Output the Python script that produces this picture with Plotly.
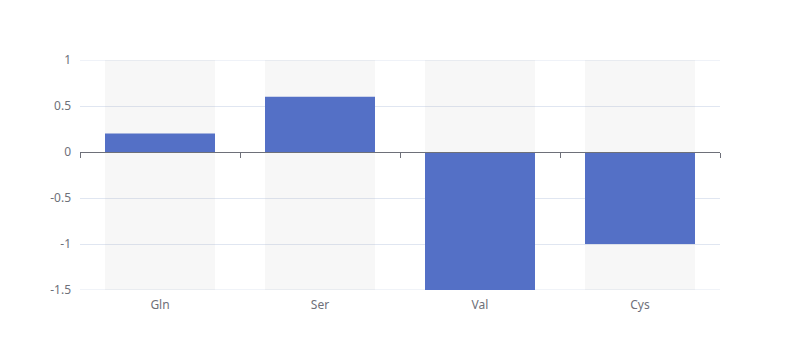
import plotly.graph_objects as go

categories = ["Gln", "Ser", "Val", "Cys"]
values = [0.2, 0.6, -1.5, -1.0]
y_min, y_max = -1.5, 1.0
y_ticks = [-1.5, -1, -0.5, 0, 0.5, 1]
y_tick_text = ["-1.5", "-1", "-0.5", "0", "0.5", "1"]

fig = go.Figure()
fig.add_trace(go.Bar(
    x=categories, y=[y_max - y_min] * len(categories), base=[y_min] * len(categories),
    marker=dict(color="rgba(180,180,180,0.1)", line=dict(width=0)),
    hoverinfo="skip", showlegend=False,
))
fig.add_trace(go.Bar(
    x=categories, y=values,
    marker=dict(color="#5470c6", line=dict(width=0)),
    showlegend=False,
))
# axis line with boundary ticks, placed on the zero value
zero_pos = (0 - y_min) / (y_max - y_min)
fig.add_trace(go.Scatter(x=categories, y=[None] * 4, xaxis="x2", showlegend=False, hoverinfo="skip"))

# grid lines at the range edges (plotly clips these)
for yv in (y_min, y_max):
    fig.add_shape(type="line", xref="paper", yref="y", x0=0, x1=1, y0=yv, y1=yv,
                  line=dict(color="#e0e6f1", width=1), layer="below")

fig.update_layout(
    width=800, height=360,
    margin=dict(l=80, r=80, t=60, b=70),
    paper_bgcolor="white", plot_bgcolor="white",
    barmode="overlay", bargap=0.3125,
    font=dict(family="Noto Sans, sans-serif", size=12, color="#6e7079"),
    xaxis=dict(
        type="category", range=[-0.5, 3.5], showline=False, ticks="",
        showgrid=False, zeroline=False, ticklabelstandoff=6,
        tickfont=dict(color="#6e7079", size=12),
    ),
    xaxis2=dict(
        type="category", range=[-0.5, 3.5], overlaying="x", anchor="free",
        position=zero_pos, side="bottom", showline=True, linecolor="#6e7079",
        linewidth=1, ticks="outside", ticklen=5, tickcolor="#6e7079",
        tickmode="array", tickvals=[-0.5, 0.5, 1.5, 2.5, 3.5], showticklabels=False,
        showgrid=False, zeroline=False,
    ),
    yaxis=dict(
        range=[y_min, y_max], tickvals=y_ticks, ticktext=y_tick_text,
        showgrid=True, gridcolor="#e0e6f1", gridwidth=1, zeroline=False,
        showline=False, ticks="", ticklabelstandoff=8,
        tickfont=dict(color="#6e7079", size=12),
    ),
)
fig.write_html("out.html")
